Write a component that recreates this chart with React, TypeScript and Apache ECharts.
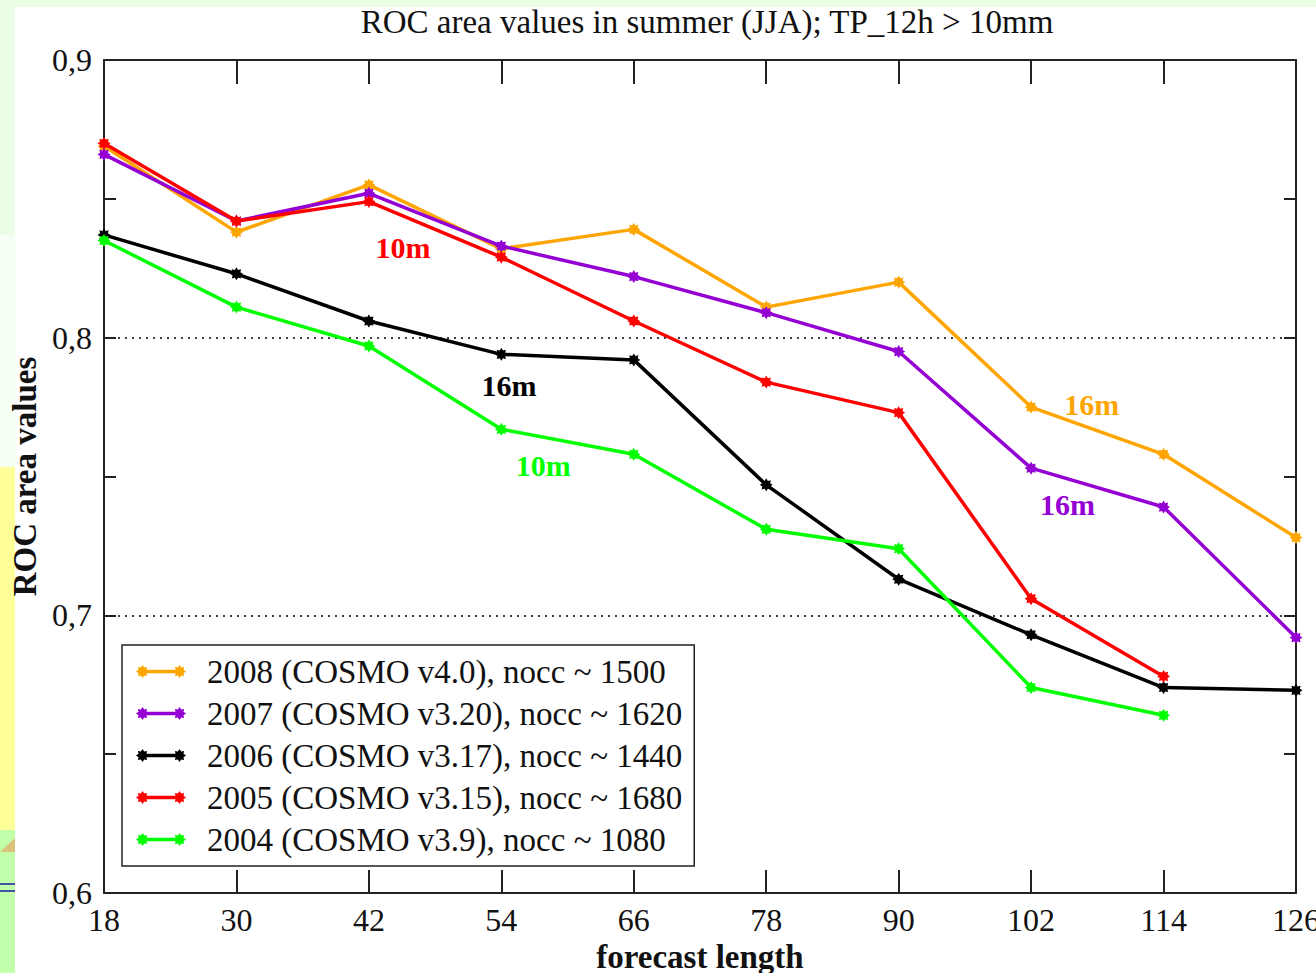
import React, { useEffect, useRef } from "react";
import * as echarts from "echarts";

const hours = [18, 30, 42, 54, 66, 78, 90, 102, 114, 126];
const roc2008 = [0.869, 0.838, 0.855, 0.832, 0.839, 0.811, 0.82, 0.775, 0.758, 0.728];
const roc2007 = [0.866, 0.842, 0.852, 0.833, 0.822, 0.809, 0.795, 0.753, 0.739, 0.692];
const roc2006 = [0.837, 0.823, 0.806, 0.794, 0.792, 0.747, 0.713, 0.693, 0.674, 0.673];
const roc2005 = [0.87, 0.842, 0.849, 0.829, 0.806, 0.784, 0.773, 0.706, 0.678];
const roc2004 = [0.835, 0.811, 0.797, 0.767, 0.758, 0.731, 0.724, 0.674, 0.664];

const seriesNames = [
  "2008 (COSMO v4.0), nocc ~ 1500",
  "2007 (COSMO v3.20), nocc ~ 1620",
  "2006 (COSMO v3.17), nocc ~ 1440",
  "2005 (COSMO v3.15), nocc ~ 1680",
  "2004 (COSMO v3.9), nocc ~ 1080",
];
const seriesValues = [roc2008, roc2007, roc2006, roc2005, roc2004];
const seriesColors = ["#ffa500", "#9400d3", "#000000", "#ff0000", "#00ff00"];

// annotation per series: label, x (forecast hours), y (ROC value)
const annotLabels = ["16m", "16m", "16m", "10m", "10m"];
const annotX = [107.5, 105.3, 54.7, 45.1, 57.8];
const annotY = [0.776, 0.74, 0.7826, 0.8326, 0.7538];

const titleText = "ROC area values in summer (JJA); TP_12h > 10mm";
const xName = "forecast length";
const yName = "ROC area values";

const FONT = "'Liberation Serif', 'Times New Roman', serif";

function starPath(cx: number, cy: number, ro: number, ri: number): string {
  let d = "";
  for (let i = 0; i < 16; i++) {
    const a = (i * Math.PI) / 8 - Math.PI / 2;
    const r = i % 2 === 0 ? ro : ri;
    d += (i === 0 ? "M" : "L") + (cx + r * Math.cos(a)).toFixed(2) + " " + (cy + r * Math.sin(a)).toFixed(2) + " ";
  }
  return d + "Z";
}

const markerSymbol = "path://" + starPath(10, 10, 10, 6.5);
const legendIcon =
  "path://M7 4.8 L43 4.8 L43 8.2 L7 8.2 Z " + starPath(6.5, 6.5, 6.5, 4.3) + " " + starPath(43.5, 6.5, 6.5, 4.3);

export default function App() {
  const ref = useRef<HTMLDivElement>(null);
  useEffect(() => {
    if (!ref.current) return;
    const chart = echarts.init(ref.current, null, { renderer: "svg" });
    const axisLineStyle = { color: "#222", width: 2 };
    const option: any = {
      animation: false,
      backgroundColor: "#ffffff",
      title: {
        text: titleText,
        left: 702,
        textAlign: "center",
        top: 0,
        textStyle: { fontFamily: FONT, fontSize: 33, fontWeight: "normal", color: "#111" },
      },
      graphic: [
        { type: "rect", shape: { x: 0, y: 0, width: 1316, height: 7 }, style: { fill: "#ebfde5" }, z: -10 },
        { type: "rect", shape: { x: 0, y: 0, width: 15, height: 235 }, style: { fill: "#ecfde7" }, z: -10 },
        { type: "rect", shape: { x: 0, y: 235, width: 15, height: 232 }, style: { fill: "#f6fff3" }, z: -10 },
        { type: "rect", shape: { x: 0, y: 467, width: 15, height: 363 }, style: { fill: "#ffff99" }, z: -10 },
        { type: "rect", shape: { x: 0, y: 830, width: 15, height: 143 }, style: { fill: "#c2ffaa" }, z: -10 },
        { type: "polygon", shape: { points: [[0, 852], [15, 838], [15, 852]] }, style: { fill: "#d9c27a" }, z: -9 },
        { type: "line", shape: { x1: 0, y1: 884, x2: 15, y2: 884 }, style: { stroke: "#1a1aa0", lineWidth: 1.5 }, z: -9 },
        { type: "line", shape: { x1: 0, y1: 891, x2: 15, y2: 891 }, style: { stroke: "#1a1aa0", lineWidth: 1.5 }, z: -9 },
      ],
      grid: {
        left: 104,
        top: 60,
        width: 1192,
        height: 833,
        containLabel: false,
        outerBoundsMode: "none",
      },
      legend: {
        orient: "vertical",
        left: 122,
        top: 645,
        data: seriesNames,
        icon: legendIcon,
        itemWidth: 50,
        itemHeight: 13,
        itemGap: 9,
        padding: [10, 12, 10, 14],
        borderColor: "#222",
        borderWidth: 1.5,
        backgroundColor: "#ffffff",
        selectedMode: false,
        textStyle: { fontFamily: FONT, fontSize: 33, lineHeight: 32, color: "#111", padding: [0, 0, 0, 16] },
      },
      xAxis: [
        {
          type: "value",
          min: 18,
          max: 126,
          interval: 12,
          position: "bottom",
          name: xName,
          nameLocation: "middle",
          nameGap: 46,
          nameTextStyle: { fontFamily: FONT, fontSize: 33, fontWeight: "bold", color: "#111" },
          axisLine: { show: true, lineStyle: axisLineStyle },
          axisTick: { show: true, inside: true, length: 23, lineStyle: axisLineStyle },
          axisLabel: { fontFamily: FONT, fontSize: 32, color: "#111", margin: 11 },
          splitLine: { show: false },
        },
        {
          type: "value",
          min: 18,
          max: 126,
          interval: 12,
          position: "top",
          axisLine: { show: true, lineStyle: axisLineStyle },
          axisTick: { show: true, inside: true, length: 24, lineStyle: axisLineStyle },
          axisLabel: { show: false },
          splitLine: { show: false },
        },
      ],
      yAxis: [
        {
          type: "value",
          min: 0.6,
          max: 0.9,
          interval: 0.05,
          position: "left",
          name: yName,
          nameLocation: "middle",
          nameGap: 58,
          nameRotate: 90,
          nameTextStyle: { fontFamily: FONT, fontSize: 33, fontWeight: "bold", color: "#111" },
          axisLine: { show: true, lineStyle: axisLineStyle },
          axisTick: { show: true, inside: true, length: 12, lineStyle: axisLineStyle },
          axisLabel: {
            fontFamily: FONT,
            fontSize: 32,
            color: "#111",
            margin: 12,
            formatter: (v: number) =>
              Math.round(v * 100) % 10 === 0 ? v.toFixed(1).replace(".", ",") : "",
          },
          splitLine: { show: false },
        },
        {
          type: "value",
          min: 0.6,
          max: 0.9,
          interval: 0.05,
          position: "right",
          axisLine: { show: true, lineStyle: axisLineStyle },
          axisTick: { show: true, inside: true, length: 12, lineStyle: axisLineStyle },
          axisLabel: { show: false },
          splitLine: { show: false },
        },
        {
          type: "value",
          min: 0.6,
          max: 0.9,
          interval: 0.1,
          position: "left",
          axisLine: { show: false },
          axisTick: { show: false },
          axisLabel: { show: false },
          splitLine: { show: true, lineStyle: { color: "#000", width: 1.5, type: [2, 5] } },
        },
      ],
      series: seriesNames.map((name, i) => ({
        name,
        type: "line",
        xAxisIndex: 0,
        yAxisIndex: 0,
        data: seriesValues[i].map((v, j) => [hours[j], v]),
        symbol: markerSymbol,
        symbolSize: 13,
        showAllSymbol: true,
        itemStyle: { color: seriesColors[i] },
        lineStyle: { color: seriesColors[i], width: 3.5 },
        z: 2 + i,
        markPoint: {
          symbol: "circle",
          symbolSize: 0,
          data: [{ coord: [annotX[i], annotY[i]], value: annotLabels[i] }],
          label: {
            show: true,
            position: "inside",
            formatter: annotLabels[i],
            fontFamily: FONT,
            fontSize: 30,
            fontWeight: "bold",
            color: seriesColors[i],
          },
        },
      })),
    };
    chart.setOption(option);
    return () => chart.dispose();
  }, []);
  return (
    <div
      ref={ref}
      style={{ position: "fixed", left: 0, top: 0, width: 1316, height: 973 }}
    />
  );
}
